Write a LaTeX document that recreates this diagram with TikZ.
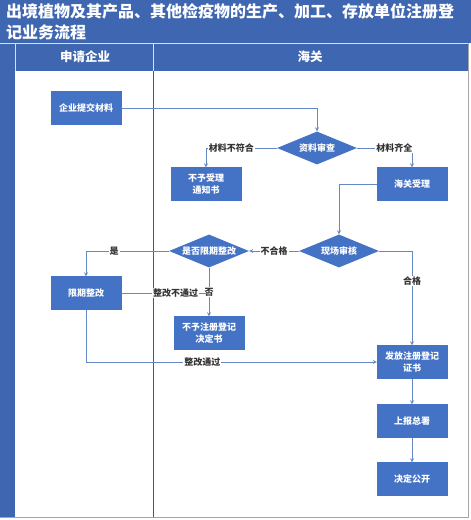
\documentclass[tikz,border=0pt]{standalone}
\usepackage{fontspec}
\setmainfont{Noto Sans CJK SC}
\usetikzlibrary{shapes.geometric}

\definecolor{barblue}{HTML}{3F66B0}
\definecolor{boxblue}{HTML}{4472C4}
\definecolor{flowline}{HTML}{6488C4}
\definecolor{laneline}{HTML}{50576A}

\tikzset{
  stepbox/.style={draw=boxblue, fill=boxblue, text=white, font=\bfseries\fontsize{9}{12}\selectfont,
    minimum width=70pt, minimum height=33pt, inner sep=1pt, align=center},
  choice/.style={diamond, aspect=2.5, fill=boxblue, text=white, font=\bfseries\fontsize{9}{10}\selectfont,
    minimum width=80pt, minimum height=33pt, inner sep=0pt},
  flow/.style={draw=flowline, line width=0.8pt},
  tag/.style={fill=white, inner sep=1pt, text=black!80, font=\bfseries\fontsize{9}{10}\selectfont}
}

\begin{document}
\begin{tikzpicture}[x=1pt,y=-1pt]
  \useasboundingbox (0,0) rectangle (471,520);
  % frame and lanes
  \fill[barblue] (0,0) rectangle (471,43);
  \fill[barblue] (0,43) rectangle (468,71);
  \fill[barblue] (0,71) rectangle (15,517);
  \draw[white!80!barblue, line width=0.6pt] (15,43) -- (15,71) (153,43) -- (153,71) (0,43) -- (468,43);
  \draw[laneline, line width=0.8pt] (153,71) -- (153,517);
  \draw[black!35, line width=0.8pt] (0,517) -- (468,517) -- (468,43);
  \node[anchor=north west, text=white, font=\bfseries\fontsize{16}{21}\selectfont, align=left, inner sep=0pt]
    (title) at (6,3) {出境植物及其产品、其他检疫物的生产、加工、存放单位注册登\\记业务流程};
  \node[text=white, font=\bfseries\fontsize{12.5}{14}\selectfont] (laneA) at (85,57) {申请企业};
  \node[text=white, font=\bfseries\fontsize{12.5}{14}\selectfont] (laneB) at (310,57) {海关};

  % steps
  \node[stepbox] (submit) at (86,108) {企业提交材料};
  \node[choice]  (check)  at (317,148) {资料审查};
  \node[stepbox] (reject) at (206,184) {不予受理\\通知书};
  \node[stepbox] (accept) at (412,184) {海关受理};
  \node[choice]  (site)   at (339,251) {现场审核};
  \node[choice]  (limit)  at (209,251) {是否限期整改};
  \node[stepbox] (fix)    at (86,293) {限期整改};
  \node[stepbox] (refuse) at (209,333) {不予注册登记\\决定书};
  \node[stepbox] (issue)  at (412,362) {发放注册登记\\证书};
  \node[stepbox] (report) at (412,421) {上报总署};
  \node[stepbox] (public) at (412,479) {决定公开};

  % connectors
  \draw[flow,-stealth] (submit.east) -| (check.north);
  \draw[flow,-stealth] (check.west) -| node[tag, pos=0.32] {材料不符合} (reject.north);
  \draw[flow,-stealth] (check.east) -| node[tag, pos=0.34] {材料齐全} (accept.north);
  \draw[flow,-stealth] (accept.west) -| (site.north);
  \draw[flow,-stealth] (site.west) -- node[tag] {不合格} (limit.east);
  \draw[flow,-stealth] (limit.west) -| node[tag, pos=0.33] {是} (fix.north);
  \draw[flow,-stealth] (limit.south) -- node[tag, pos=0.5] {否} (refuse.north);
  \draw[flow] (fix.east) -- node[tag, pos=0.62] {整改不通过} (limit.south |- fix.east);
  \draw[flow,-stealth] (site.east) -| node[tag, pos=0.66] {合格} (issue.north);
  \draw[flow,-stealth] (fix.south) |- node[tag, pos=0.7] {整改通过} (issue.west);
  \draw[flow,-stealth] (issue) -- (report);
  \draw[flow,-stealth] (report) -- (public);
\end{tikzpicture}
\end{document}
